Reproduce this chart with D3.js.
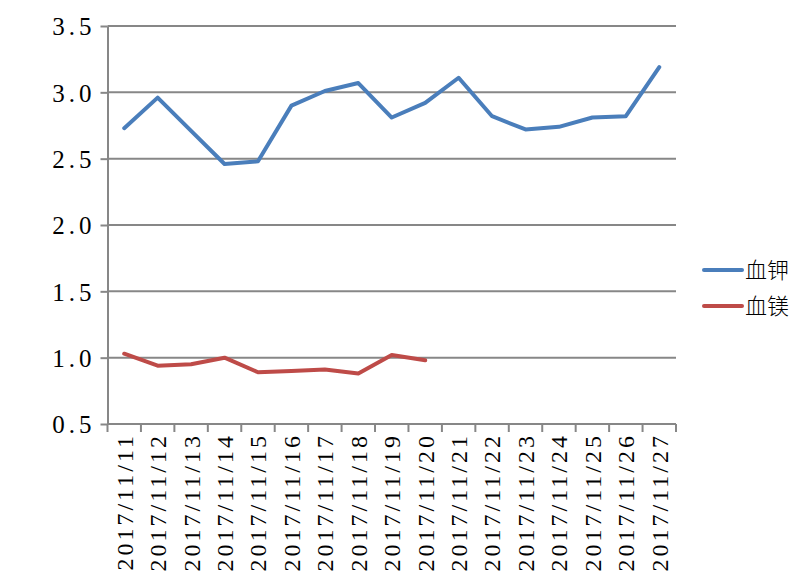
<!DOCTYPE html>
<html><head><meta charset="utf-8">
<script src="https://cdn.jsdelivr.net/npm/d3@7"></script>
<style>html,body{margin:0;padding:0;background:#fff;}
svg text.serif{font-family:"Liberation Serif","DejaVu Serif","Times New Roman",serif;}
svg text.cjk{font-family:"Noto Sans CJK SC",sans-serif;}
</style>
</head><body>
<svg id="chart" width="800" height="578"></svg>
<script>
const categories = ["2017/11/11","2017/11/12","2017/11/13","2017/11/14","2017/11/15","2017/11/16","2017/11/17","2017/11/18","2017/11/19","2017/11/20","2017/11/21","2017/11/22","2017/11/23","2017/11/24","2017/11/25","2017/11/26","2017/11/27"];
const potassium = [2.73,2.96,2.71,2.46,2.48,2.90,3.01,3.07,2.81,2.92,3.11,2.82,2.72,2.74,2.81,2.82,3.19];
const magnesium = [1.03,0.94,0.95,1.00,0.89,0.90,0.91,0.88,1.02,0.98];
const yTicks = [0.5,1.0,1.5,2.0,2.5,3.0,3.5];
const seriesNames = ["血钾","血镁"];
const seriesColors = ["#4A7EBB","#BE4B48"];

(function(){
const svg = d3.select("#chart");
const pLeft = 107.5, pRight = 676, pTop = 26, pBottom = 424;
const x = d3.scaleBand().domain(categories).range([pLeft, pRight]);
const y = d3.scaleLinear().domain([0.5, 3.5]).range([pBottom, pTop]);

// gridlines
svg.append("g").selectAll("line").data(yTicks.slice(1)).join("line")
  .attr("x1", pLeft).attr("x2", pRight)
  .attr("y1", d => y(d)).attr("y2", d => y(d))
  .attr("stroke", "#878787").attr("stroke-width", 2);

// y axis
const yAxis = d3.axisLeft(y).tickValues(yTicks).tickSize(7).tickSizeOuter(0)
  .tickFormat(d3.format(".1f"));
const gy = svg.append("g").attr("transform", `translate(${pLeft},0)`).call(yAxis)
  .attr("font-family", null).attr("font-size", null);
gy.select(".domain").attr("stroke", "#878787").attr("stroke-width", 2);
gy.selectAll(".tick line").attr("stroke", "#878787").attr("stroke-width", 2);
gy.selectAll(".tick text").attr("class", "serif").attr("x", -12).attr("dy", "0.35em")
  .style("font-size", "25px").attr("fill", "#000")
  .style("letter-spacing", "4px");

// x axis
const gx = svg.append("g").attr("transform", `translate(0,${pBottom})`);
gx.append("line").attr("x1", pLeft).attr("x2", pRight).attr("y1", 0).attr("y2", 0)
  .attr("stroke", "#878787").attr("stroke-width", 2);
const bounds = categories.map(c => x(c)).concat([x(categories[categories.length-1]) + x.bandwidth()]);
gx.selectAll("line.t").data(bounds).join("line").attr("class","t")
  .attr("x1", d => d).attr("x2", d => d).attr("y1", 0).attr("y2", 8)
  .attr("stroke", "#878787").attr("stroke-width", 2);
gx.selectAll("text").data(categories).join("text").attr("class", "serif")
  .attr("transform", d => `translate(${x(d) + x.bandwidth()/2},9) rotate(-90)`)
  .attr("text-anchor", "end").attr("dy", "0.35em")
  .style("font-size", "24px").style("letter-spacing", "3px")
  .attr("fill", "#000").text(d => d);

// lines
const line = d3.line().x((d,i) => x(categories[i]) + x.bandwidth()/2).y(d => y(d));
[potassium, magnesium].forEach((s, k) => {
  svg.append("path").datum(s).attr("d", line).attr("fill", "none")
    .attr("stroke", seriesColors[k]).attr("stroke-width", 4)
    .attr("stroke-linejoin", "round").attr("stroke-linecap", "round");
});

// legend
const lg = svg.append("g");
seriesNames.forEach((n, k) => {
  const ly = 270 + k * 36;
  lg.append("line").attr("x1", 704).attr("x2", 742).attr("y1", ly).attr("y2", ly)
    .attr("stroke", seriesColors[k]).attr("stroke-width", 4).attr("stroke-linecap", "round");
  lg.append("text").attr("class", "cjk").attr("x", 745).attr("y", ly).attr("dy", "0.38em")
    .style("font-size", "22px").style("font-weight", 300).attr("fill", "#000").text(n);
});
})();
</script>
</body></html>
